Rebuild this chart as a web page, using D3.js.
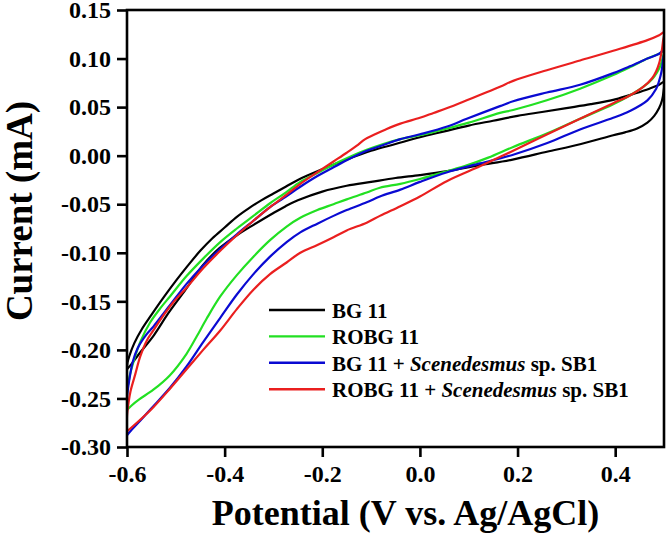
<!DOCTYPE html>
<html>
<head>
<meta charset="utf-8">
<script src="https://cdn.jsdelivr.net/npm/d3@7"></script>
<style>
  html, body { margin: 0; padding: 0; background: #fff; }
  svg { display: block; }
  text { font-family: "Liberation Serif", "Times New Roman", serif; font-weight: bold; fill: #000; }
</style>
</head>
<body>
<script>
// ---------- data (Potential V vs Ag/AgCl, Current mA) ----------
const xTicks = [-0.6, -0.4, -0.2, 0.0, 0.2, 0.4];
const yTicks = [-0.30, -0.25, -0.20, -0.15, -0.10, -0.05, 0.00, 0.05, 0.10, 0.15];

const seriesNames = ["BG 11", "ROBG 11", "BG 11 + Scenedesmus sp. SB1", "ROBG 11 + Scenedesmus sp. SB1"];
const seriesColors = ["#000000", "#22e022", "#0a0ad2", "#ea1f1f"];

// BG 11
const bg11Forward = [[-0.600,-0.220],[-0.599,-0.213],[-0.595,-0.206],[-0.585,-0.193],[-0.570,-0.179],[-0.550,-0.164],[-0.525,-0.146],[-0.500,-0.129],[-0.475,-0.113],[-0.450,-0.098],[-0.425,-0.085],[-0.400,-0.074],[-0.375,-0.063],[-0.350,-0.054],[-0.325,-0.046],[-0.300,-0.039],[-0.275,-0.032],[-0.250,-0.025],[-0.200,-0.014],[-0.150,-0.004],[-0.100,0.005],[-0.050,0.012],[0.000,0.019],[0.050,0.025],[0.100,0.031],[0.150,0.036],[0.200,0.041],[0.250,0.045],[0.300,0.049],[0.350,0.053],[0.400,0.058],[0.440,0.064],[0.470,0.069],[0.490,0.073],[0.500,0.076]];
const bg11Reverse = [[0.499,0.066],[0.496,0.057],[0.490,0.049],[0.480,0.041],[0.466,0.034],[0.445,0.028],[0.420,0.024],[0.396,0.021],[0.330,0.012],[0.260,0.004],[0.190,-0.004],[0.120,-0.010],[0.056,-0.016],[0.000,-0.020],[-0.050,-0.023],[-0.100,-0.027],[-0.150,-0.031],[-0.200,-0.037],[-0.250,-0.046],[-0.275,-0.052],[-0.300,-0.059],[-0.340,-0.071],[-0.375,-0.082],[-0.410,-0.095],[-0.445,-0.113],[-0.480,-0.138],[-0.515,-0.162],[-0.545,-0.185],[-0.575,-0.204],[-0.593,-0.216],[-0.600,-0.220]];

// ROBG 11
const robg11Forward = [[-0.600,-0.262],[-0.600,-0.245],[-0.595,-0.228],[-0.586,-0.211],[-0.573,-0.192],[-0.553,-0.172],[-0.530,-0.156],[-0.512,-0.145],[-0.478,-0.124],[-0.444,-0.106],[-0.409,-0.089],[-0.375,-0.075],[-0.341,-0.062],[-0.307,-0.049],[-0.275,-0.038],[-0.245,-0.027],[-0.210,-0.018],[-0.177,-0.009],[-0.143,-0.001],[-0.109,0.006],[-0.075,0.012],[-0.040,0.017],[0.000,0.021],[0.056,0.028],[0.100,0.034],[0.164,0.044],[0.191,0.047],[0.260,0.057],[0.328,0.069],[0.396,0.083],[0.430,0.091],[0.466,0.100],[0.490,0.105],[0.500,0.108]];
const robg11Reverse = [[0.497,0.100],[0.493,0.093],[0.486,0.086],[0.476,0.079],[0.458,0.071],[0.430,0.062],[0.396,0.053],[0.328,0.038],[0.261,0.023],[0.191,0.009],[0.140,-0.002],[0.096,-0.010],[0.056,-0.016],[0.000,-0.024],[-0.040,-0.029],[-0.082,-0.033],[-0.109,-0.038],[-0.150,-0.045],[-0.177,-0.050],[-0.210,-0.056],[-0.245,-0.064],[-0.273,-0.073],[-0.307,-0.087],[-0.341,-0.104],[-0.375,-0.123],[-0.409,-0.145],[-0.437,-0.168],[-0.457,-0.186],[-0.478,-0.204],[-0.512,-0.226],[-0.546,-0.241],[-0.575,-0.251],[-0.590,-0.257],[-0.600,-0.262]];

// BG 11 + Scenedesmus sp. SB1
const bg11SbForward = [[-0.600,-0.288],[-0.600,-0.250],[-0.595,-0.230],[-0.588,-0.212],[-0.578,-0.198],[-0.560,-0.184],[-0.546,-0.176],[-0.512,-0.154],[-0.478,-0.132],[-0.444,-0.113],[-0.409,-0.096],[-0.375,-0.081],[-0.341,-0.067],[-0.307,-0.053],[-0.280,-0.044],[-0.245,-0.032],[-0.210,-0.021],[-0.177,-0.012],[-0.143,-0.003],[-0.109,0.005],[-0.075,0.011],[-0.040,0.017],[0.000,0.022],[0.056,0.030],[0.096,0.038],[0.164,0.051],[0.191,0.056],[0.260,0.065],[0.328,0.073],[0.396,0.085],[0.430,0.092],[0.466,0.100],[0.490,0.105],[0.500,0.109]];
const bg11SbReverse = [[0.498,0.098],[0.495,0.087],[0.490,0.077],[0.484,0.069],[0.466,0.057],[0.430,0.046],[0.396,0.039],[0.328,0.027],[0.261,0.013],[0.191,0.001],[0.123,-0.008],[0.056,-0.017],[0.000,-0.027],[-0.040,-0.035],[-0.082,-0.042],[-0.109,-0.048],[-0.150,-0.056],[-0.177,-0.062],[-0.210,-0.070],[-0.245,-0.079],[-0.273,-0.089],[-0.307,-0.104],[-0.341,-0.122],[-0.375,-0.143],[-0.409,-0.167],[-0.444,-0.192],[-0.478,-0.217],[-0.512,-0.239],[-0.546,-0.258],[-0.573,-0.273],[-0.590,-0.282],[-0.600,-0.288]];

// ROBG 11 + Scenedesmus sp. SB1
const robg11SbForward = [[-0.600,-0.284],[-0.600,-0.268],[-0.597,-0.255],[-0.593,-0.243],[-0.583,-0.225],[-0.573,-0.207],[-0.559,-0.190],[-0.546,-0.180],[-0.526,-0.165],[-0.505,-0.151],[-0.478,-0.136],[-0.444,-0.116],[-0.409,-0.098],[-0.375,-0.082],[-0.341,-0.067],[-0.307,-0.053],[-0.275,-0.041],[-0.245,-0.029],[-0.210,-0.017],[-0.177,-0.006],[-0.150,0.003],[-0.130,0.010],[-0.112,0.017],[-0.092,0.022],[-0.070,0.027],[-0.040,0.033],[0.000,0.039],[0.028,0.044],[0.056,0.049],[0.096,0.057],[0.164,0.071],[0.191,0.077],[0.260,0.088],[0.328,0.098],[0.396,0.108],[0.466,0.119],[0.490,0.124],[0.500,0.127]];
const robg11SbReverse = [[0.498,0.118],[0.496,0.110],[0.490,0.095],[0.484,0.087],[0.476,0.080],[0.458,0.071],[0.430,0.062],[0.396,0.054],[0.328,0.038],[0.261,0.022],[0.191,0.005],[0.157,-0.003],[0.123,-0.011],[0.056,-0.026],[0.000,-0.042],[-0.040,-0.052],[-0.082,-0.062],[-0.109,-0.069],[-0.150,-0.077],[-0.177,-0.084],[-0.210,-0.092],[-0.245,-0.100],[-0.273,-0.110],[-0.307,-0.122],[-0.341,-0.138],[-0.375,-0.158],[-0.409,-0.180],[-0.444,-0.200],[-0.478,-0.220],[-0.512,-0.240],[-0.546,-0.259],[-0.573,-0.272],[-0.600,-0.284]];

const loops = [
  bg11Forward.concat(bg11Reverse),
  robg11Forward.concat(robg11Reverse),
  bg11SbForward.concat(bg11SbReverse),
  robg11SbForward.concat(robg11SbReverse)
];

// ---------- chart ----------
const W = 666, H = 534;
const margin = { left: 127, top: 10, right: 2, bottom: 87 };

const svg = d3.select("body").append("svg").attr("width", W).attr("height", H);

const x = d3.scaleLinear().domain([-0.6, 0.5]).range([margin.left, W - margin.right]);
const y = d3.scaleLinear().domain([-0.30, 0.15]).range([H - margin.bottom, margin.top]);

svg.append("clipPath").attr("id", "plotClip")
  .append("rect")
  .attr("x", x.range()[0]).attr("y", y.range()[1])
  .attr("width", x.range()[1] - x.range()[0])
  .attr("height", y.range()[0] - y.range()[1]);

const line = d3.line()
  .x(d => x(d[0]))
  .y(d => y(d[1]))
  .curve(d3.curveCatmullRom.alpha(0.5));

const plot = svg.append("g").attr("clip-path", "url(#plotClip)");
loops.forEach((pts, i) => {
  plot.append("path")
    .datum(pts)
    .attr("d", line)
    .attr("fill", "none")
    .attr("stroke", seriesColors[i])
    .attr("stroke-width", 2.2)
    .attr("stroke-linejoin", "round");
});

// frame
svg.append("rect")
  .attr("x", x.range()[0]).attr("y", y.range()[1])
  .attr("width", x.range()[1] - x.range()[0])
  .attr("height", y.range()[0] - y.range()[1])
  .attr("fill", "none").attr("stroke", "#000").attr("stroke-width", 2.6);

// axes
const fmtY = v => v.toFixed(2);
const fmtX = v => v.toFixed(1);

const yAxis = svg.append("g")
  .attr("transform", `translate(${x.range()[0]},0)`)
  .call(d3.axisLeft(y).tickValues(yTicks).tickFormat(fmtY).tickSize(10).tickPadding(6));
const xAxis = svg.append("g")
  .attr("transform", `translate(0,${y.range()[0]})`)
  .call(d3.axisBottom(x).tickValues(xTicks).tickFormat(fmtX).tickSize(10).tickPadding(8));

[yAxis, xAxis].forEach(g => {
  g.select(".domain").remove();
  g.selectAll(".tick line").attr("stroke", "#000").attr("stroke-width", 2.6);
  g.selectAll(".tick text")
    .style("font-family", '"Liberation Serif", "Times New Roman", serif')
    .style("font-weight", "bold")
    .style("font-size", "24px")
    .attr("fill", "#000");
});

// axis titles
svg.append("text")
  .attr("x", (x.range()[0] + x.range()[1]) / 2 + 10)
  .attr("y", 525)
  .attr("text-anchor", "middle")
  .style("font-size", "36px")
  .text("Potential (V vs. Ag/AgCl)");

svg.append("text")
  .attr("transform", "translate(32,211) rotate(-90)")
  .attr("text-anchor", "middle")
  .style("font-size", "37px")
  .text("Current (mA)");

// legend
const legend = svg.append("g");
const legendY0 = 310, legendDy = 26.4;
seriesNames.forEach((name, i) => {
  const ly = legendY0 + i * legendDy;
  legend.append("line")
    .attr("x1", 269).attr("x2", 325)
    .attr("y1", ly).attr("y2", ly)
    .attr("stroke", seriesColors[i]).attr("stroke-width", 2.4);
  const t = legend.append("text")
    .attr("x", 332).attr("y", ly + 8)
    .style("font-size", "21px");
  const m = name.match(/^(.*\+ )(Scenedesmus)( .*)$/);
  if (m) {
    t.append("tspan").text(m[1]);
    t.append("tspan").style("font-style", "italic").text(m[2]);
    t.append("tspan").text(m[3]);
  } else {
    t.text(name);
  }
});
</script>
</body>
</html>
